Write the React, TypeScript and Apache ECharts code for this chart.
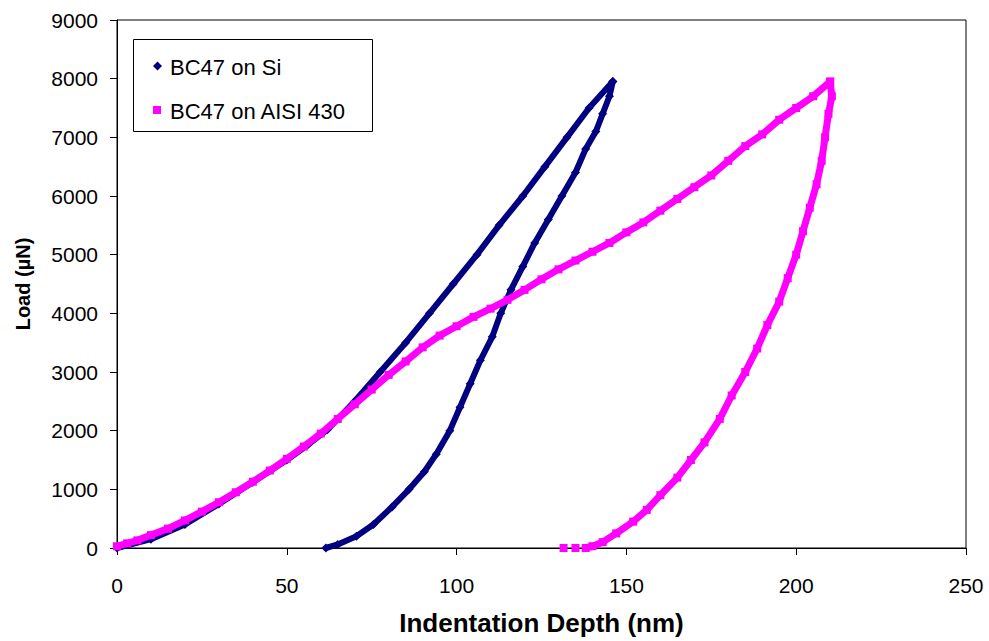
import React, { useEffect, useRef } from "react";
import * as echarts from "echarts";

// Indentation depth (nm), load (µN)
const siLoadDepth = [0, 10, 20, 30, 40, 50, 56, 62, 70, 77.5, 85, 92, 99, 106, 112.5, 119.5, 126, 132.5, 139, 146];
const siLoadForce = [0, 150, 400, 750, 1120, 1500, 1750, 2020, 2500, 3000, 3500, 4000, 4500, 5000, 5500, 6000, 6500, 7000, 7500, 7950];

const siUnloadDepth = [146, 145, 143, 141, 138, 135, 131, 127, 123, 119.5, 116, 113, 110.5, 107, 104, 101, 98, 94, 90.5, 86, 81, 75.5, 70.5, 65, 61.5];
const siUnloadForce = [7950, 7700, 7400, 7100, 6800, 6400, 6000, 5600, 5200, 4800, 4400, 4000, 3600, 3200, 2800, 2400, 2000, 1600, 1300, 1000, 700, 400, 200, 60, 0];

const aisiLoadDepth = [0, 3, 6, 10, 15, 20, 25, 30, 35, 40, 45, 50, 55, 60, 65, 70, 75, 80, 85, 90, 95, 100, 105, 110, 115, 120, 125, 130, 135, 140, 145, 150, 155, 160, 165, 170, 175, 180, 185, 190, 195, 200, 205, 210];
const aisiLoadForce = [30, 80, 130, 220, 330, 470, 620, 780, 950, 1130, 1320, 1520, 1730, 1950, 2200, 2450, 2700, 2950, 3180, 3420, 3620, 3780, 3940, 4080, 4230, 4400, 4580, 4750, 4900, 5050, 5200, 5380, 5550, 5750, 5950, 6150, 6350, 6600, 6850, 7050, 7300, 7500, 7700, 7950];

const aisiUnloadDepth = [210, 210.5, 209.5, 208.5, 207.5, 206, 204, 202, 200, 197.5, 195, 191.5, 188.5, 185, 181, 177.5, 173, 169, 165, 160, 156, 152, 147, 143, 140, 138];
const aisiUnloadForce = [7950, 7700, 7400, 7000, 6600, 6200, 5800, 5400, 5000, 4600, 4200, 3800, 3400, 3000, 2600, 2200, 1800, 1500, 1200, 900, 650, 450, 250, 100, 30, 0];

const aisiStrayDepth = [131.5, 135];
const aisiStrayForce = [0, 0];

const xTicks = [0, 50, 100, 150, 200, 250];
const yTicks = [0, 1000, 2000, 3000, 4000, 5000, 6000, 7000, 8000, 9000];

const SI_NAME = "BC47 on Si";
const AISI_NAME = "BC47 on AISI 430";
const NAVY = "#000080";
const PINK = "#FF00FF";
const FONT = "'Liberation Sans', Arial, Helvetica, sans-serif";

const zip = (xs: number[], ys: number[]) => xs.map((x, i) => [x, ys[i]]);

export default function App() {
  const ref = useRef<HTMLDivElement>(null);
  useEffect(() => {
    if (!ref.current) return;
    const chart = echarts.init(ref.current, undefined, { renderer: "svg" });
    const siData = [...zip(siLoadDepth, siLoadForce), ...zip(siUnloadDepth, siUnloadForce)];
    const aisiData = [...zip(aisiLoadDepth, aisiLoadForce), ...zip(aisiUnloadDepth, aisiUnloadForce)];
    const aisiPoints = [...aisiData, ...zip(aisiStrayDepth, aisiStrayForce)];
    const legendText = { fontFamily: FONT, fontSize: 22, fill: "#000", verticalAlign: "middle", align: "left" };
    chart.setOption({
      animation: false,
      backgroundColor: "#fff",
      grid: {
        left: 117,
        right: 23,
        top: 20,
        bottom: 91,
        show: true,
        borderColor: "#000",
        borderWidth: 1,
        backgroundColor: "transparent",
      },
      legend: { show: false },
      graphic: [
        {
          type: "group",
          z: 100,
          children: [
            {
              type: "rect",
              shape: { x: 133.5, y: 39.5, width: 239, height: 92 },
              style: { fill: "#fff", stroke: "#000", lineWidth: 1 },
            },
            {
              type: "polygon",
              shape: { points: [[157.5, 61.5], [162, 66], [157.5, 70.5], [153, 66]] },
              style: { fill: NAVY },
            },
            { type: "text", x: 170, y: 67, style: { ...legendText, text: SI_NAME } },
            {
              type: "rect",
              shape: { x: 153, y: 106, width: 8, height: 8 },
              style: { fill: PINK },
            },
            { type: "text", x: 170, y: 111, style: { ...legendText, text: AISI_NAME } },
          ],
        },
      ],
      xAxis: {
        type: "value",
        min: xTicks[0],
        max: xTicks[xTicks.length - 1],
        interval: 50,
        name: "Indentation Depth (nm)",
        nameLocation: "middle",
        nameGap: 62,
        nameTextStyle: { fontFamily: FONT, fontSize: 26, fontWeight: "bold", color: "#000" },
        axisLine: { show: true, onZero: false, lineStyle: { color: "#000", width: 1 } },
        axisTick: { show: true, inside: false, length: 7, lineStyle: { color: "#000" } },
        axisLabel: { fontFamily: FONT, fontSize: 21, color: "#000", margin: 27, formatter: (v: number) => String(v) },
        splitLine: { show: false },
      },
      yAxis: {
        type: "value",
        min: yTicks[0],
        max: yTicks[yTicks.length - 1],
        interval: 1000,
        name: "Load (µN)",
        nameLocation: "middle",
        nameGap: 84,
        nameTextStyle: { fontFamily: FONT, fontSize: 20, fontWeight: "bold", color: "#000" },
        axisLine: { show: true, onZero: false, lineStyle: { color: "#000", width: 1 } },
        axisTick: { show: true, inside: false, length: 7, lineStyle: { color: "#000" } },
        axisLabel: { fontFamily: FONT, fontSize: 21, color: "#000", margin: 19, formatter: (v: number) => String(v) },
        splitLine: { show: false },
      },
      series: [
        {
          name: "si-band",
          type: "line",
          data: siData,
          showSymbol: false,
          symbol: "none",
          lineStyle: { color: NAVY, width: 6 },
          z: 2,
        },
        {
          name: SI_NAME,
          type: "scatter",
          data: siData,
          symbol: "diamond",
          symbolSize: 9,
          itemStyle: { color: NAVY, opacity: 1 },
          z: 2,
        },
        {
          name: "aisi-band",
          type: "line",
          data: aisiData,
          showSymbol: false,
          symbol: "none",
          lineStyle: { color: PINK, width: 7 },
          z: 3,
        },
        {
          name: AISI_NAME,
          type: "scatter",
          data: aisiPoints,
          symbol: "rect",
          symbolSize: 8,
          itemStyle: { color: PINK, opacity: 1 },
          z: 3,
        },
      ],
    });
    return () => chart.dispose();
  }, []);
  return <div ref={ref} style={{ width: 989, height: 641, position: "absolute", left: 0, top: 0 }} />;
}
